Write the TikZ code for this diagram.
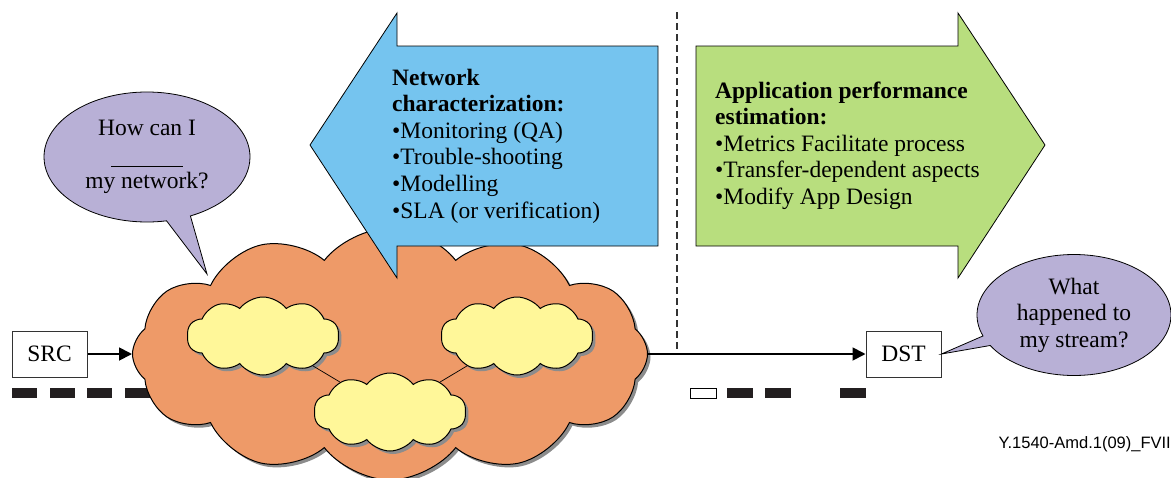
\documentclass[tikz,border=0pt]{standalone}
\usepackage{fontspec}
\setmainfont{Liberation Serif}
\setsansfont{Liberation Sans}
\usepackage{tikz}
\usetikzlibrary{shapes.symbols,shapes.callouts,shadows,arrows.meta}

\definecolor{bubblecol}{RGB}{184,176,214}
\definecolor{netblue}{RGB}{117,196,239}
\definecolor{appgreen}{RGB}{184,222,126}
\definecolor{cloudorange}{RGB}{238,154,104}
\definecolor{subyellow}{RGB}{255,247,153}
\definecolor{barblack}{RGB}{35,31,32}

\begin{document}
\begin{tikzpicture}[x=1pt,y=-1pt,
  font=\fontsize{23.5}{26.6}\selectfont,
  every node/.style={inner sep=0pt},
  box/.style={draw=black!80,line width=1pt,fill=white,minimum width=75pt,minimum height=46pt},
  bubble/.style={ellipse callout,draw,line width=0.8pt,fill=bubblecol,align=center},
  puff/.style={cloud,cloud puffs=#1,cloud puff arc=105,cloud ignores aspect,draw,line width=1pt,
    drop shadow={shadow xshift=3pt,shadow yshift=-3pt,fill=black!45,opacity=1}},
  flow/.style={line width=1.8pt,-{Triangle[length=13pt,width=13pt]}},
  bigarrow/.style={draw,line width=0.8pt,fill=#1},
  bar/.style={fill=barblack}]
\useasboundingbox (0,0) rectangle (1171,477);

% dashes along the bottom
\foreach \x in {12,49.5,87,124.5}
  \fill[bar] (\x,388) rectangle ++(25,10);
\draw[line width=0.8pt] (690,388) rectangle ++(26,10);
\foreach \x in {727,765,840}
  \fill[bar] (\x,388) rectangle ++(26,10);

% end points
\node[box] (src) at (49.5,354) {SRC};
\node[box] (dst) at (903.5,354) {DST};

% speech bubbles
\coordinate (asktip) at (207,274);
\node[bubble,minimum width=206pt,minimum height=130pt,
  callout absolute pointer={(asktip)},callout pointer arc=14] (askleft) at (147,157)
  {How can I\\ \rule[-5pt]{72pt}{0.8pt}\\ my network?};
\node[bubble,minimum width=194pt,minimum height=121pt,
  callout absolute pointer={(dst.east)},callout pointer arc=10] (askright) at (1074,315)
  {What\\ happened to\\ my stream?};

% the network and its sub-networks
\node[puff=12,fill=cloudorange,minimum width=515pt,minimum height=252pt] (net) at (390,354) {};
\node[puff=10,fill=subyellow,minimum width=152pt,minimum height=78pt] (netA) at (263,336) {};
\node[puff=10,fill=subyellow,minimum width=152pt,minimum height=78pt] (netB) at (517,336) {};
\node[puff=10,fill=subyellow,minimum width=152pt,minimum height=78pt] (netC) at (390,412) {};
\draw[line width=0.7pt] (netA) -- (netC);
\draw[line width=0.7pt] (netB) -- (netC);

% divider
\coordinate (divtop) at (677,12);
\draw[line width=1.8pt,black!80,dash pattern=on 7pt off 4pt] (divtop) -- (divtop |- dst);

\draw[flow] (src) -- (net);
\draw[flow] (net) -- (dst);

% the two big arrows
\draw[bigarrow=netblue] (310,145) -- (397,13) -- (397,46) -- (658,46) -- (658,246)
  -- (397,246) -- (397,278) -- cycle;
\draw[bigarrow=appgreen] (696,46) -- (958,46) -- (958,13) -- (1045,145) -- (958,278)
  -- (958,246) -- (696,246) -- cycle;

% text sits on the baseline of its last line
\node[anchor=base west,align=left] (nettext) at (392,218)
  {\textbf{Network}\\ \textbf{characterization:}\\ •Monitoring (QA)\\ •Trouble-shooting\\
   •Modelling\\ •SLA (or verification)};
\node[anchor=base west,align=left] (apptext) at (715,204.4)
  {\textbf{Application performance}\\ \textbf{estimation:}\\ •Metrics Facilitate process\\
   •Transfer-dependent aspects\\ •Modify App Design};

% figure tag
\node[anchor=base east,font=\sffamily\fontsize{16.5}{18}\selectfont] (tag) at (1171,448)
  {Y.1540-Amd.1(09)\_FVII};
\end{tikzpicture}
\end{document}
